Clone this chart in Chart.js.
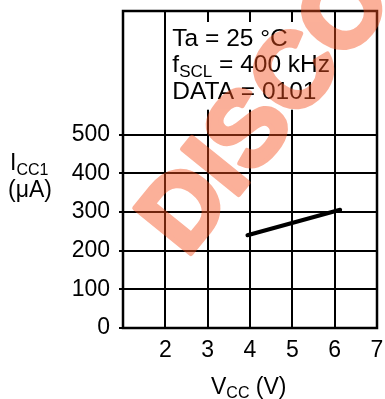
<!DOCTYPE html>
<html>
<head>
<meta charset="utf-8">
<script src="https://cdn.jsdelivr.net/npm/chart.js@4"></script>
<style>
  html, body { margin: 0; padding: 0; background: #fff; }
  #wrap { width: 385px; height: 399px; position: relative; }
</style>
</head>
<body>
<div id="wrap"><canvas id="c" width="385" height="399"></canvas></div>
<script>
// ---- data ----
const vccValues = [3.94, 6.13];          // V
const iccValues = [240, 306];            // µA
const xTickValues = [1, 2, 3, 4, 5, 6, 7];
const xTickLabels = ['', '2', '3', '4', '5', '6', '7'];
const yTickValues = [0, 100, 200, 300, 400, 500];
const yTickLabels = ['0', '100', '200', '300', '400', '500'];
const xMin = 1, xMax = 7, yMin = 0, yMax = 820;
const conditionLines = [
  { main: 'Ta = 25 °C' },
  { main: 'f', sub: 'SCL', rest: ' = 400 kHz' },
  { main: 'DATA = 0101' }
];
const watermarkText = 'DISCO';

const FONT = '"Liberation Sans", Arial, sans-serif';

const decor = {
  id: 'decor',
  afterDatasetsDraw(chart) {
    const { ctx, chartArea: a, scales: { x, y } } = chart;
    ctx.save();
    // frame
    ctx.strokeStyle = '#000';
    ctx.lineWidth = 2.5;
    ctx.strokeRect(a.left, a.top, a.right - a.left, a.bottom - a.top);
    // white condition box
    const bx0 = x.getPixelForValue(2) + 3, bx1 = x.getPixelForValue(6) - 3;
    const by0 = a.top + 11, by1 = y.getPixelForValue(500) - 25;
    ctx.fillStyle = '#fff';
    ctx.fillRect(bx0, by0, bx1 - bx0, by1 - by0);
    // condition text
    ctx.fillStyle = '#000';
    ctx.textBaseline = 'alphabetic';
    ctx.textAlign = 'left';
    const tx = x.getPixelForValue(2) + 7;
    conditionLines.forEach((ln, i) => {
      const by = a.top + 35 + i * 26.3;
      ctx.font = '24.5px ' + FONT;
      ctx.fillText(ln.main, tx, by);
      let cx = tx + ctx.measureText(ln.main).width;
      if (ln.sub) {
        ctx.font = '17px ' + FONT;
        ctx.fillText(ln.sub, cx, by + 5);
        cx += ctx.measureText(ln.sub).width;
        ctx.font = '24.5px ' + FONT;
        ctx.fillText(ln.rest, cx, by);
      }
    });
    ctx.restore();
  },
  afterDraw(chart) {
    const { ctx, chartArea: a } = chart;
    ctx.save();
    ctx.fillStyle = '#000';
    ctx.textAlign = 'left';
    ctx.textBaseline = 'alphabetic';
    // y title
    ctx.font = '23px ' + FONT;
    ctx.fillText('I', 10, 170);
    let w = ctx.measureText('I').width;
    ctx.font = '16px ' + FONT;
    ctx.fillText('CC1', 10 + w, 175);
    ctx.font = '23px ' + FONT;
    ctx.fillText('(μA)', 8, 197);
    // x title
    ctx.font = '23px ' + FONT;
    ctx.fillText('V', 211, 394);
    w = ctx.measureText('V').width;
    ctx.font = '16px ' + FONT;
    ctx.fillText('CC', 211 + w, 398);
    const w2 = ctx.measureText('CC').width;
    ctx.font = '23px ' + FONT;
    ctx.fillText(' (V)', 211 + w + w2, 394);
    ctx.restore();
    // watermark on an offscreen layer, composited semi-transparently
    const layer = document.createElement('canvas');
    layer.width = chart.width; layer.height = chart.height;
    const lc = layer.getContext('2d');
    lc.translate(a.left + 63.5, a.top + 248);
    lc.rotate(-51 * Math.PI / 180);
    lc.font = 'bold 105px ' + FONT;
    lc.fillStyle = 'rgb(245,80,30)';
    lc.strokeStyle = 'rgb(245,80,30)';
    lc.lineWidth = 5;
    lc.lineJoin = 'round';
    lc.fillText(watermarkText, 0, 0);
    lc.strokeText(watermarkText, 0, 0);
    ctx.save();
    ctx.globalAlpha = 0.45;
    ctx.drawImage(layer, 0, 0);
    ctx.restore();
  }
};

new Chart(document.getElementById('c'), {
  type: 'line',
  data: {
    datasets: [{
      data: vccValues.map((v, i) => ({ x: v, y: iccValues[i] })),
      borderColor: '#000',
      borderWidth: 4,
      borderCapStyle: 'round',
      pointRadius: 0,
      tension: 0,
      fill: false
    }]
  },
  options: {
    responsive: false,
    animation: false,
    devicePixelRatio: 1,
    layout: { padding: { top: 11, right: 8, left: 0, bottom: 0 } },
    plugins: { legend: { display: false }, tooltip: { enabled: false } },
    scales: {
      x: {
        type: 'linear', min: xMin, max: xMax,
        afterBuildTicks: s => { s.ticks = xTickValues.map(v => ({ value: v })); },
        afterFit: s => { s.height = 71; s.paddingLeft = 0; s.paddingRight = 0; },
        ticks: {
          autoSkip: false, maxRotation: 0, padding: 9, color: '#000',
          font: { family: FONT, size: 23 },
          callback: (v, i) => xTickLabels[i]
        },
        grid: { color: '#000', lineWidth: 2, drawTicks: false },
        border: { display: false }
      },
      y: {
        type: 'linear', min: yMin, max: yMax,
        afterBuildTicks: s => { s.ticks = yTickValues.map(v => ({ value: v })); },
        afterFit: s => { s.width = 123; s.paddingTop = 0; s.paddingBottom = 0; },
        ticks: {
          autoSkip: false, padding: 9, color: '#000',
          font: { family: FONT, size: 23 },
          callback: (v, i) => yTickLabels[i]
        },
        grid: { color: '#000', lineWidth: 2, drawTicks: true, tickLength: 4 },
        border: { display: false }
      }
    }
  },
  plugins: [decor]
});
</script>
</body>
</html>
